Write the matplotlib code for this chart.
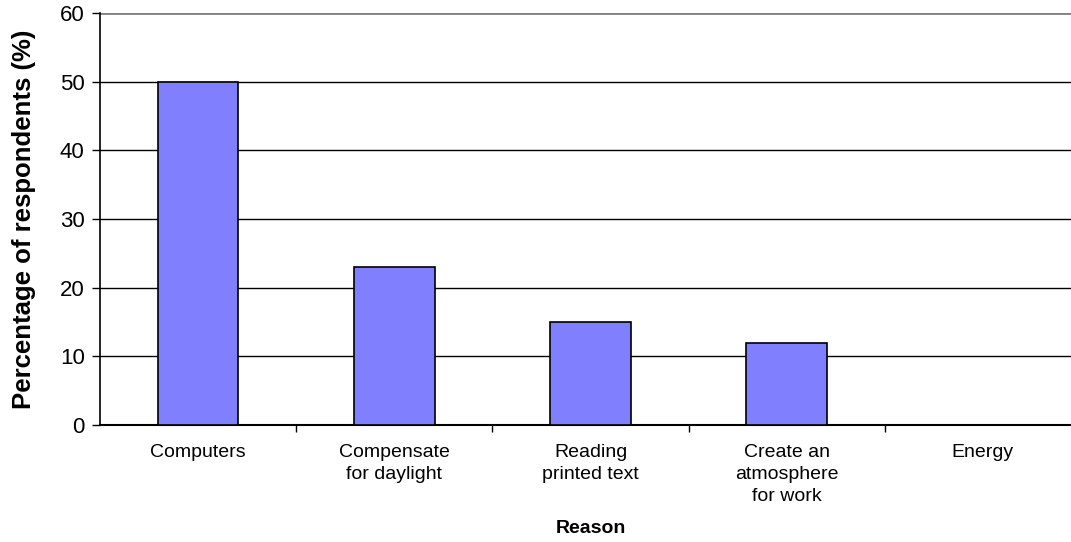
import matplotlib
matplotlib.use("Agg")
import matplotlib.pyplot as plt
import numpy as np

plt.rcParams["font.family"] = ["Liberation Sans", "DejaVu Sans"]

reasons = ["Computers", "Compensate\nfor daylight", "Reading\nprinted text",
           "Create an\natmosphere\nfor work", "Energy"]
percent = [50, 23, 15, 12, 0]
yticks = [0, 10, 20, 30, 40, 50, 60]

fig = plt.figure(figsize=(10.71, 5.42), dpi=100)
ax = fig.add_axes([100 / 1071, 117 / 542, 981 / 1071, 412 / 542])

pos = np.arange(len(reasons))
ax.bar(pos, percent, 0.41, color="#8080FF", edgecolor="black", linewidth=1.2, zorder=3)

ax.set_xlim(-0.5, len(reasons) - 0.5)
ax.set_ylim(0, 60)
ax.set_yticks(yticks)
ax.tick_params(axis="y", labelsize=16, length=6, width=1, direction="out", pad=5)

# category ticks sit on the boundaries between groups
ax.set_xticks(pos)
ax.set_xticklabels(reasons, fontsize=14, linespacing=1.35, va="top")
ax.tick_params(axis="x", length=0, pad=14)
ax.set_xticks(pos[:-1] + 0.5, minor=True)
ax.tick_params(axis="x", which="minor", length=5, width=1, direction="out")

for y in yticks[1:-1]:
    ax.axhline(y, color="black", linewidth=1, zorder=1)
ax.axhline(60, color="#808080", linewidth=2, zorder=1)

for s in ["top", "right"]:
    ax.spines[s].set_visible(False)
ax.spines["left"].set_linewidth(1.2)
ax.spines["bottom"].set_linewidth(1.5)

ax.set_ylabel("Percentage of respondents (%)", fontsize=18.5, fontweight="bold", labelpad=17)
ax.set_xlabel("Reason", fontsize=14, fontweight="bold", labelpad=11)

fig.savefig("out.png", dpi=100)
